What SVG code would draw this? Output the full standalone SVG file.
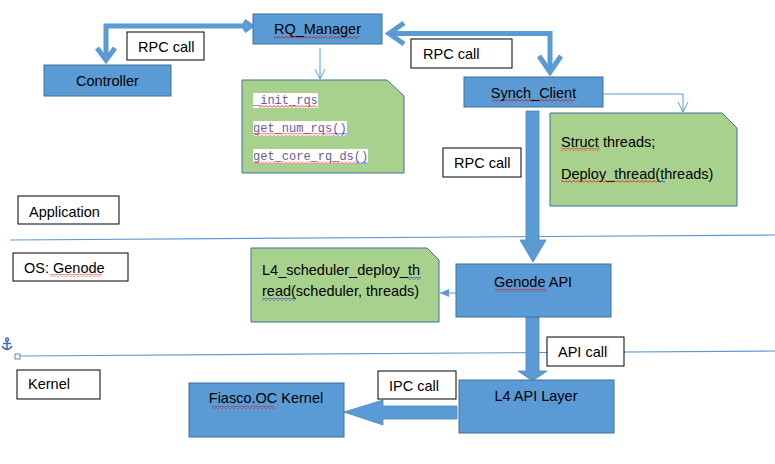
<svg xmlns="http://www.w3.org/2000/svg" width="775" height="464" viewBox="0 0 775 464">
<style>
.box{fill:#5B9BD5;stroke:#41719C;stroke-width:1}
.note{fill:#A9D18E;stroke:#41719C;stroke-width:1}
.lbl{fill:#FFFFFF;stroke:#000000;stroke-width:1}
.t{font-family:"Liberation Sans",Arial,sans-serif;font-size:14.5px;fill:#000000}
.c{text-anchor:middle}
.mono{font-family:"Liberation Mono","DejaVu Sans Mono",monospace;font-size:12px;fill:#6B5B9E}
.hl{fill:#FFFFFF}
.thick{fill:none;stroke:#5B9BD5;stroke-width:5}
.thin{fill:none;stroke:#5B9BD5;stroke-width:1}
.sep{stroke:#5B9BD5;stroke-width:1.2}
.blk{fill:#5B9BD5;stroke:#4A86BF;stroke-width:0.8}
.sqr{fill:url(#sqr)}
.sqb{fill:url(#sqb)}
</style>
<defs>
<pattern id="sqr" width="4" height="3" patternUnits="userSpaceOnUse"><path d="M0 2.5 L2 0.5 L4 2.5" fill="none" stroke="#E00000" stroke-width="0.8"/></pattern>
<pattern id="sqb" width="4" height="3" patternUnits="userSpaceOnUse"><path d="M0 2.5 L2 0.5 L4 2.5" fill="none" stroke="#0000E0" stroke-width="0.8"/></pattern>
<marker id="vhead" markerUnits="userSpaceOnUse" markerWidth="12" markerHeight="12" viewBox="0 0 12 12" refX="11" refY="6" orient="auto"><path d="M1 1 L11 6 L1 11" fill="none" stroke="#5B9BD5" stroke-width="1"/></marker>
<marker id="fhead" markerUnits="userSpaceOnUse" markerWidth="10" markerHeight="10" viewBox="0 0 10 10" refX="9" refY="5" orient="auto"><path d="M0 1 L9 5 L0 9 Z" fill="#5B9BD5"/></marker>
</defs>

<g id="layers">
<line class="sep" x1="10" y1="240" x2="775" y2="235"/>
<line class="sep" x1="20" y1="356" x2="775" y2="351"/>
<rect x="15" y="354" width="5" height="5" fill="#FFFFFF" stroke="#808080" stroke-width="1"/>
<g id="anchor" fill="none" stroke="#3F6FAE" stroke-width="1.5">
<circle cx="7" cy="339.5" r="1.5"/>
<path d="M7 341 V350 M3 343.5 H11 M2 346 Q7 353 12 346"/>
</g>
</g>

<g id="connectors">
<path class="thick" d="M246 26 H106 V58"/>
<polyline class="thick" points="97,48 106,60 115,48"/>
<polyline class="thick" points="244,21 251,26 244,31"/>
<path class="thick" d="M390 33.5 H550 V70"/>
<polyline class="thick" points="404,23 389,33.5 404,44"/>
<polyline class="thick" points="539,56 550,72 561,56"/>
<path class="thin" d="M320 48 V79" marker-end="url(#vhead)"/>
<path class="thin" d="M603 94 H683 V112" marker-end="url(#vhead)"/>
<path class="thin" d="M456 293 H440" marker-end="url(#fhead)"/>
<polygon class="blk" points="526,111 539,111 539,240 546,240 533,262 520,240 526,240"/>
<polygon class="blk" points="526,317 539,317 539,371 547,371 532.5,381 518,371 526,371"/>
<polygon class="blk" points="457,406 383,406 383,400 344,412 383,425 383,419 457,419"/>
</g>

<g id="rq_manager">
<rect class="box" x="253" y="14" width="129" height="30"/>
<rect class="sqr" x="274" y="36" width="85" height="3"/>
<text class="t c" x="317.5" y="34">RQ_Manager</text>
</g>
<g id="controller">
<rect class="box" x="44" y="65" width="127" height="31"/>
<text class="t c" x="107.5" y="86">Controller</text>
</g>
<g id="synch_client">
<rect class="box" x="464" y="77" width="139" height="30"/>
<rect class="sqr" x="492" y="99" width="83" height="3"/>
<text class="t c" x="533.5" y="98">Synch_Client</text>
</g>
<g id="genode_api">
<rect class="box" x="456" y="264" width="155" height="53"/>
<rect class="sqr" x="495" y="289" width="52" height="3"/>
<text class="t c" x="533" y="287">Genode API</text>
</g>
<g id="l4_api_layer">
<rect class="box" x="459" y="380" width="155" height="53"/>
<text class="t c" x="536" y="401">L4 API Layer</text>
</g>
<g id="fiasco_kernel">
<rect class="box" x="189" y="383" width="155" height="54"/>
<rect class="sqr" x="212" y="406" width="63" height="3"/>
<text class="t c" x="266" y="403">Fiasco.OC Kernel</text>
</g>

<g id="note_rq">
<path class="note" d="M242 80 H387 L404 96 V173 H242 Z"/>
<rect class="hl" x="253" y="93" width="65" height="15"/>
<rect class="hl" x="253" y="121" width="94" height="15"/>
<rect class="hl" x="253" y="149" width="115" height="15"/>
<text class="mono" x="253" y="104">_init_rqs</text>
<text class="mono" x="253" y="132">get_num_rqs()</text>
<text class="mono" x="253" y="160">get_core_rq_ds()</text>
<rect class="sqr" x="259" y="105" width="58" height="3"/>
<rect class="sqr" x="253" y="133" width="79" height="3"/>
<rect class="sqb" x="332" y="133" width="15" height="3"/>
<rect class="sqr" x="253" y="161" width="102" height="3"/>
<rect class="sqb" x="355" y="161" width="13" height="3"/>
</g>
<g id="note_synch">
<path class="note" d="M550 113 H722 L737 128 V206 H550 Z"/>
<text class="t" x="561" y="147">Struct threads;</text>
<text class="t" x="561" y="179">Deploy_thread(threads)</text>
<rect class="sqr" x="561" y="148" width="39" height="3"/>
<rect class="sqr" x="561" y="180" width="97" height="3"/>
<rect class="sqb" x="658" y="180" width="7" height="3"/>
</g>
<g id="note_genode">
<path class="note" d="M251 248 H427 L439 260 V322 H251 Z"/>
<text class="t" x="262" y="275">L4_scheduler_deploy_th</text>
<text class="t" x="262" y="296">read(scheduler, threads)</text>
<rect class="sqb" x="407" y="277" width="14" height="3"/>
<rect class="sqb" x="262" y="298" width="34" height="3"/>
</g>

<g id="lbl_rpc1"><rect class="lbl" x="127" y="32" width="77" height="28"/><text class="t" x="138" y="52">RPC call</text></g>
<g id="lbl_rpc2"><rect class="lbl" x="411" y="39" width="101" height="29"/><text class="t" x="423" y="59">RPC call</text></g>
<g id="lbl_rpc3"><rect class="lbl" x="443" y="148" width="78" height="29"/><text class="t" x="454" y="168">RPC call</text></g>
<g id="lbl_application"><rect class="lbl" x="18" y="196" width="101" height="28"/><text class="t" x="29" y="217">Application</text></g>
<g id="lbl_os"><rect class="lbl" x="13" y="253" width="115" height="28"/><rect class="sqr" x="50" y="274" width="52" height="3"/><text class="t" x="24" y="273">OS: Genode</text></g>
<g id="lbl_kernel"><rect class="lbl" x="17" y="370" width="83" height="29"/><text class="t" x="28" y="389">Kernel</text></g>
<g id="lbl_api"><rect class="lbl" x="547" y="337" width="77" height="29"/><text class="t" x="558" y="357">API call</text></g>
<g id="lbl_ipc"><rect class="lbl" x="378" y="371" width="78" height="28"/><text class="t" x="389" y="391">IPC call</text></g>
</svg>
